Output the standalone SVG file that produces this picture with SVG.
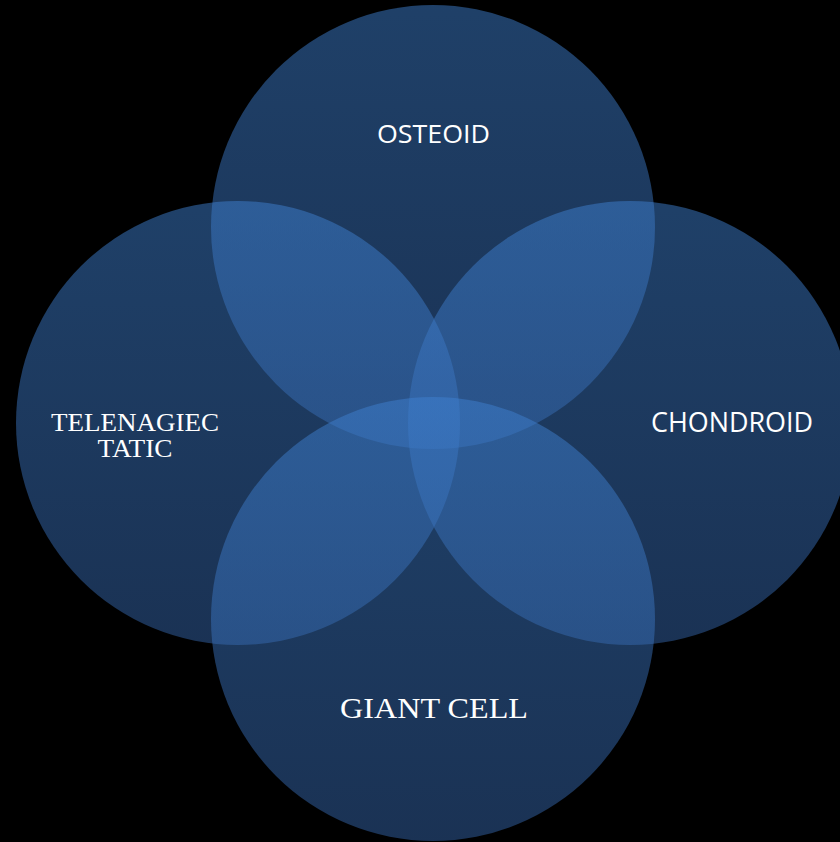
<svg xmlns="http://www.w3.org/2000/svg" width="840" height="842" viewBox="0 0 840 842">
<defs>
<linearGradient id="g" x1="0" y1="0" x2="0" y2="1">
<stop offset="0" stop-color="#3e80d0"/>
<stop offset="1" stop-color="#3464a8"/>
</linearGradient>
<style>
.c{fill:url(#g);fill-opacity:0.5}
.s{font-family:"Open Sans","Liberation Sans",sans-serif;fill:#ffffff;text-anchor:middle}
.f{font-family:"Liberation Serif","DejaVu Serif",serif;fill:#ffffff;text-anchor:middle}
</style>
</defs>
<rect width="840" height="842" fill="#000000"/>
<g id="connectors"></g>
<g id="osteoid">
<circle class="c" cx="433" cy="227" r="222"/>
</g>
<g id="telenagiectatic">
<circle class="c" cx="238" cy="423" r="222"/>
</g>
<g id="chondroid">
<circle class="c" cx="630" cy="423" r="222"/>
</g>
<g id="giantcell">
<circle class="c" cx="433" cy="619" r="222"/>
</g>
<g id="labels">
<text class="s" x="433.5" y="143" font-size="26" textLength="113" lengthAdjust="spacingAndGlyphs">OSTEOID</text>
<text class="s" x="732" y="432" font-size="28" textLength="162" lengthAdjust="spacingAndGlyphs">CHONDROID</text>
<text class="f" x="135" y="431" font-size="25" textLength="168" lengthAdjust="spacingAndGlyphs">TELENAGIEC</text>
<text class="f" x="135" y="457" font-size="25" textLength="75" lengthAdjust="spacingAndGlyphs">TATIC</text>
<text class="f" x="434" y="718" font-size="30" textLength="188" lengthAdjust="spacingAndGlyphs">GIANT CELL</text>
</g>
</svg>
